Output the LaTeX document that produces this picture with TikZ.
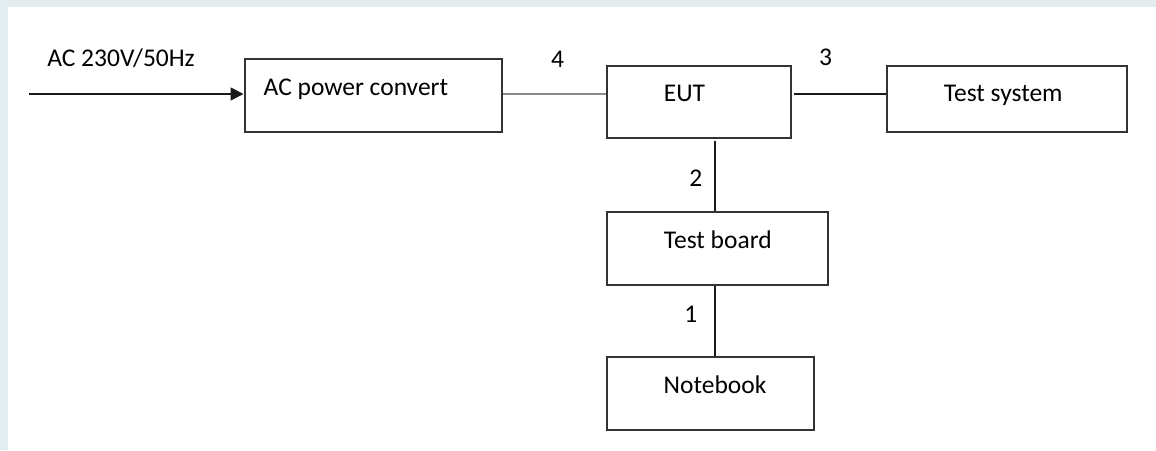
\documentclass[tikz,border=0pt]{standalone}
\usepackage{fontspec}
\setmainfont{Carlito}
\usepackage{tikz}
\usetikzlibrary{arrows.meta,positioning}
\definecolor{strip}{HTML}{E3EDF0}
\definecolor{boxgray}{HTML}{333333}
\definecolor{wiregray}{HTML}{8C8C8C}
\begin{document}
\begin{tikzpicture}[
    x=1pt, y=-1pt,
    font=\fontsize{25.5}{30}\selectfont,
    box/.style={draw=boxgray, line width=2pt},
    boxtext/.style={anchor=base west, inner sep=0pt, xshift=#1},
    boxtext/.default=58pt,
    wire/.style={line width=1.6pt, draw=black!90},
    num/.style={inner sep=0pt},
    >={Triangle[length=13pt,width=13pt]}
  ]
  \fill[strip] (0,0) rectangle (1156,450);
  \fill[white] (8,7) rectangle (1156,450);
  \node[box, minimum width=257pt, minimum height=73pt, label={[boxtext=20pt]west:AC power convert}] (conv) at (373,95) {};
  \node[box, minimum width=184pt, minimum height=72pt, label={[boxtext]west:EUT}] (eut) at (698.7,101.7) {};
  \node[box, minimum width=240pt, minimum height=66pt, label={[boxtext, yshift=-3pt]west:Test system}] (tsys) at (1006.7,98.8) {};
  \node[box, minimum width=221pt, minimum height=73pt, label={[boxtext]west:Test board}] (board) at (717.2,248.3) {};
  \node[box, minimum width=207pt, minimum height=73pt, label={[boxtext]west:Notebook}] (nbook) at (710,393.7) {};
  \coordinate (acin) at (29,94);
  \draw[wire, ->] (acin) -- (acin -| conv.west)
    node[pos=0, anchor=base west, inner sep=0pt, xshift=17.5pt, yshift=27.3pt] (acl) {AC 230V/50Hz};
  \draw[wire, draw=wiregray] (acin -| conv.east) -- (acin -| eut.west)
    node[num, midway, above=26pt, xshift=3.5pt] (n4) {4};
  \draw[wire, shorten <=2pt] (acin -| eut.east) -- (acin -| tsys.west)
    node[num, pos=0.36, above=28pt] (n3) {3};
  \draw[wire, shorten <=2pt] ([xshift=-2pt]board.north |- eut.south) -- ([xshift=-2pt]board.north)
    node[num, pos=0.55, left=12pt] (n2) {2};
  \draw[wire] ([xshift=-2pt]board.south) -- ([xshift=-2pt]board.south |- nbook.north)
    node[num, pos=0.41, left=17pt] (n1) {1};
\end{tikzpicture}
\end{document}
